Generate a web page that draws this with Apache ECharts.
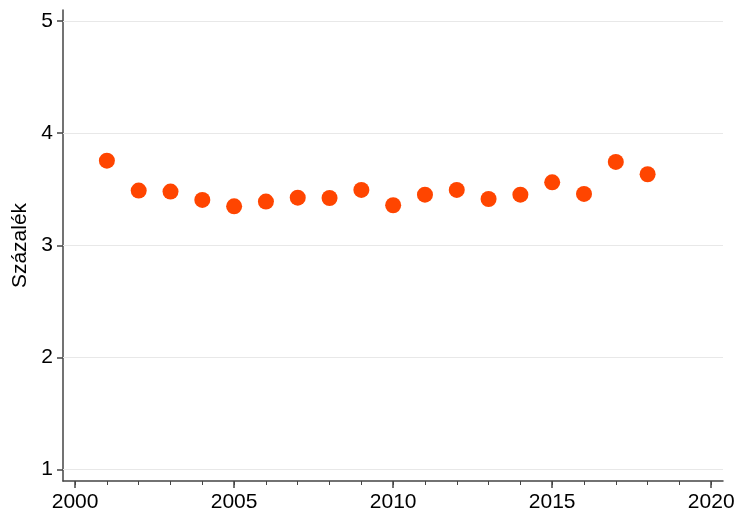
<!DOCTYPE html>
<html>
<head>
<meta charset="utf-8">
<script src="https://cdn.jsdelivr.net/npm/echarts@6/dist/echarts.min.js"></script>
<style>
  html, body { margin: 0; padding: 0; background: #fff; }
  #chart { width: 736px; height: 516px; }
</style>
</head>
<body>
<div id="chart"></div>
<script>
// years and values (Százalék)
var years = [2001, 2002, 2003, 2004, 2005, 2006, 2007, 2008, 2009, 2010,
             2011, 2012, 2013, 2014, 2015, 2016, 2017, 2018];
var values = [3.755, 3.488, 3.479, 3.405, 3.348, 3.39, 3.425, 3.422, 3.494, 3.357,
              3.452, 3.494, 3.413, 3.452, 3.562, 3.458, 3.744, 3.634];
var xLabels = [2000, 2005, 2010, 2015, 2020];
var xMinor = [2000, 2001, 2002, 2003, 2004, 2005, 2006, 2007, 2008, 2009, 2010,
              2011, 2012, 2013, 2014, 2015, 2016, 2017, 2018, 2019, 2020];
var yLabels = [1, 2, 3, 4, 5];

var chart = echarts.init(document.getElementById('chart'));
var font = 'Liberation Sans, Arial, sans-serif';

var points = years.map(function(y, i) { return [y, values[i]]; });

var option = {
  animation: false,
  grid: { left: 63, right: 13, top: 10, bottom: 35, outerBoundsMode: 'none', containLabel: false },
  xAxis: [{
    type: 'value',
    min: 1999.62,
    max: 2020.37,
    axisLine: { show: true, lineStyle: { color: '#444', width: 1.5 } },
    axisTick: { show: true, customValues: xLabels, length: 7, lineStyle: { color: '#444', width: 1.5 } },
    axisLabel: {
      customValues: xLabels, color: '#000', fontSize: 21, fontFamily: font, margin: 11,
      formatter: function(v) { return String(v); }
    },
    splitLine: { show: false }
  }, {
    type: 'value',
    position: 'bottom',
    min: 1999.62,
    max: 2020.37,
    axisLine: { show: false },
    axisTick: { show: true, customValues: xMinor, length: 4, lineStyle: { color: '#444', width: 1 } },
    axisLabel: { show: false },
    splitLine: { show: false }
  }],
  yAxis: {
    type: 'value',
    min: 0.896,
    max: 5.1,
    name: 'Százalék',
    nameLocation: 'middle',
    nameGap: 31,
    nameTextStyle: { color: '#000', fontSize: 21, fontFamily: font },
    axisLine: { show: true, lineStyle: { color: '#444', width: 1.5 } },
    axisTick: { show: true, customValues: yLabels, length: 6, lineStyle: { color: '#444', width: 1.5 } },
    axisLabel: { customValues: yLabels, color: '#000', fontSize: 21, fontFamily: font, margin: 10 },
    splitLine: { show: false }
  },
  series: [{
    type: 'scatter',
    xAxisIndex: 0,
    data: points,
    symbolSize: 16,
    itemStyle: { color: '#FF4500', opacity: 1 },
    markLine: {
      silent: true,
      symbol: 'none',
      label: { show: false },
      lineStyle: { color: '#e8e8e8', width: 1, type: 'solid' },
      data: yLabels.map(function(v) { return { yAxis: v }; }),
      z: 1
    },
    z: 3
  }]
};
chart.setOption(option);
</script>
</body>
</html>
